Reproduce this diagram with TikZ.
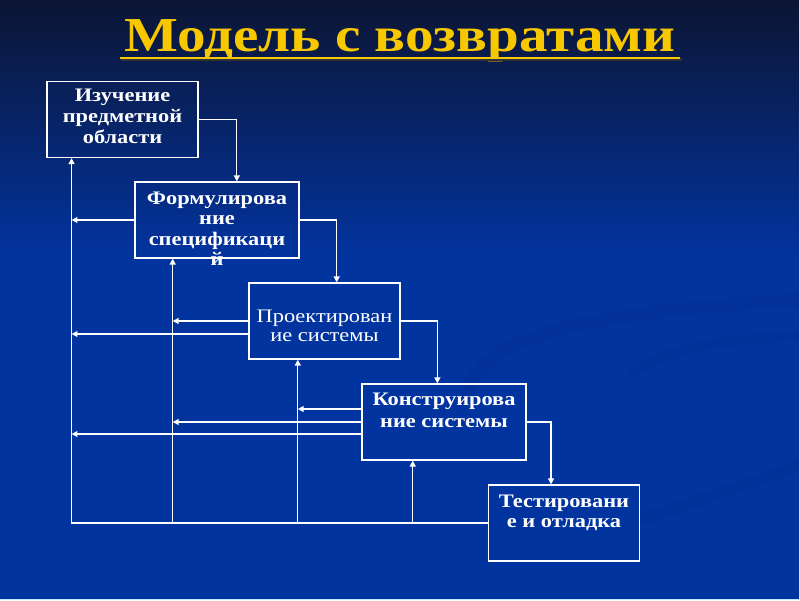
\documentclass[tikz,border=0pt]{standalone}
\usepackage{fontspec}
\setmainfont{Liberation Serif}[FakeStretch=1.17]
\usetikzlibrary{arrows.meta, calc, positioning}
\definecolor{bgtop}{HTML}{0C1534}
\definecolor{bgblue}{HTML}{0234A0}
\definecolor{titlegold}{HTML}{F7C800}
\tikzset{
  stage/.style={draw=white, line width=0.9pt, inner sep=0pt, minimum height=1.9cm},
  narrow/.style={stage, minimum width=3.78cm},
  wide/.style={stage, minimum width=4.1cm},
  caption/.style={text=white, align=center, inner sep=0pt,
    font=\fontsize{13.6}{14.6}\selectfont\bfseries},
  flow/.style={white, line width=0.9pt, -{Triangle[length=4.2pt, width=4.2pt]}},
}

\begin{document}
\begin{tikzpicture}[x=0.025cm, y=-0.025cm]
      \useasboundingbox (0,0) rectangle (800,600);
      \shade[top color=bgtop, bottom color=bgblue] (0,0) rectangle (800,260);
      \fill[bgblue] (0,259) rectangle (800,600);
      \draw[black, opacity=0.04, line width=9pt] (467,400) .. controls (470,330) and (620,310) .. (800,300);
      \draw[black, opacity=0.03, line width=7pt] (627,380) .. controls (660,345) and (740,338) .. (800,336);
      \draw[black, opacity=0.03, line width=8pt] (640,520) .. controls (700,500) and (760,480) .. (800,465);
      \draw[cyan!25!white, line width=0.6pt] (799,0) -- (799,599) -- (0,599);

      \node[text=titlegold, anchor=base, font=\fontsize{34.7}{40}\selectfont\bfseries] (title) at (400,51) {Модель с возвратами};
      \draw[black!80, line width=2pt] ($(title.base west)+(1.5,8.5)$) -- ($(title.base east)+(1.5,8.5)$);
      \draw[titlegold, line width=2pt] ($(title.base west)+(0,7)$) -- ($(title.base east)+(0,7)$);

      \node[narrow] (izuch) at (122.5,119.5) {};
      \node[wide] (formul) at (217,220) {};
      \node[narrow] (proekt) at (324.5,321) {};
      \node[wide] (konstr) at (444,422) {};
      \node[narrow] (test) at (564,523) {};

      \node[caption, below=5.9pt of izuch.north] (izuchText) {Изучение\\предметной\\области};
      \node[caption, below=7pt of formul.north] (formulText) {Формулирова\\ние\\спецификаци\\й};
      \node[caption, font=\fontsize{13.6}{13.6}\selectfont, below=19.4pt of proekt.north] (proektText) {Проектирован\\ие системы};
      \node[caption, font=\fontsize{13.6}{15.6}\selectfont\bfseries, below=6.9pt of konstr.north] (konstrText) {Конструирова\\ние системы};
      \node[caption, below=7.3pt of test.north] (testText) {Тестировани\\е и отладка};

      \draw[flow] (izuch.east) -| ($(formul.north west)!0.62!(formul.north east)$);
      \draw[flow] (formul.east) -| ($(proekt.north west)!0.58!(proekt.north east)$);
      \draw[flow] (proekt.east) -| ($(konstr.north west)!0.46!(konstr.north east)$);
      \draw[flow] (konstr.east) -| ($(test.north west)!0.415!(test.north east)$);

      \coordinate (up1) at ($(izuch.south west)!0.166!(izuch.south east)$);
      \coordinate (up2) at ($(formul.south west)!0.232!(formul.south east)$);
      \coordinate (up3) at ($(proekt.south west)!0.325!(proekt.south east)$);
      \coordinate (up4) at ($(konstr.south west)!0.311!(konstr.south east)$);

      \draw[flow] (test.west) -| (up1);
      \draw[flow] (up2 |- test.west) -- (up2);
      \draw[flow] (up3 |- test.west) -- (up3);
      \draw[flow] (up4 |- test.west) -- (up4);

      \coordinate (proektLow) at ($(proekt.west)+(0,13)$);
      \coordinate (konstrHigh) at ($(konstr.west)+(0,-13)$);
      \coordinate (konstrLow) at ($(konstr.west)+(0,12)$);

      \draw[flow] (formul.west) -- (formul.west -| up1);
      \draw[flow] (proekt.west) -- (proekt.west -| up2);
      \draw[flow] (proektLow) -- (proektLow -| up1);
      \draw[flow] (konstrHigh) -- (konstrHigh -| up3);
      \draw[flow] (konstr.west) -- (konstr.west -| up2);
      \draw[flow] (konstrLow) -- (konstrLow -| up1);
    \end{tikzpicture}
\end{document}
